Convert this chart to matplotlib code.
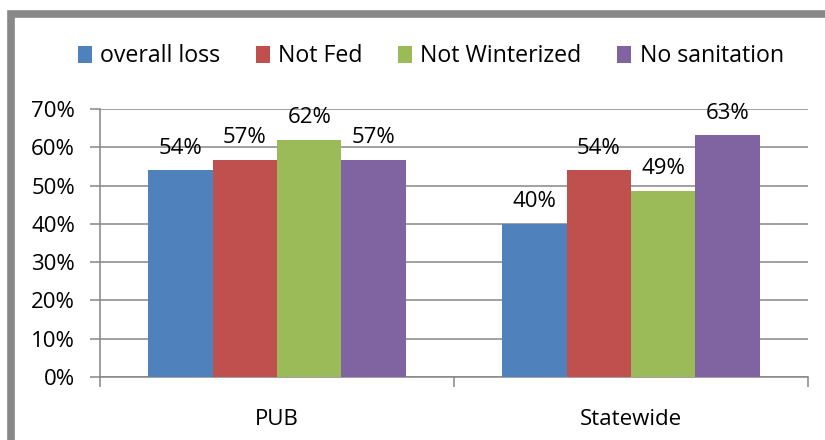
import matplotlib.pyplot as plt
import numpy as np
from matplotlib.patches import Patch, Rectangle
from matplotlib.ticker import FuncFormatter, MultipleLocator

plt.rcParams["font.family"] = ["Open Sans", "DejaVu Sans"]

CATEGORIES = ["PUB", "Statewide"]
SERIES = ["overall loss", "Not Fed", "Not Winterized", "No sanitation"]
VALUES = {
    "overall loss": [0.54, 0.40],
    "Not Fed": [0.567, 0.54],
    "Not Winterized": [0.62, 0.487],
    "No sanitation": [0.567, 0.631],
}
LABELS = {
    "overall loss": ["54%", "40%"],
    "Not Fed": ["57%", "54%"],
    "Not Winterized": ["62%", "49%"],
    "No sanitation": ["57%", "63%"],
}
COLORS = ["#4F81BD", "#C0504D", "#9BBB59", "#8064A2"]
GRID = "#868686"
FS = 16

fig = plt.figure(figsize=(8.25, 4.4), dpi=100)
ax = fig.add_axes([100 / 825, 1 - 377 / 440, 708 / 825, 268 / 440])

x = np.arange(len(CATEGORIES))
bar_w = 0.182
for i, (name, color) in enumerate(zip(SERIES, COLORS)):
    pos = x + (i - 1.5) * bar_w
    ax.bar(pos, VALUES[name], width=bar_w, color=color, zorder=3)
    for px, v, lab in zip(pos, VALUES[name], LABELS[name]):
        ax.annotate(lab, (px, v), xytext=(0, 12), textcoords="offset points",
                    ha="center", va="baseline", fontsize=FS, zorder=4)

ax.set_xlim(-0.5, 1.5)
ax.set_ylim(0, 0.7)
ax.yaxis.set_major_locator(MultipleLocator(0.1))
ax.yaxis.set_major_formatter(FuncFormatter(lambda v, _: f"{v * 100:.0f}%"))
ax.grid(axis="y", color=GRID, linewidth=1.1, zorder=0)

ax.set_xticks(x)
ax.set_xticklabels(CATEGORIES)
ax.set_xticks([-0.5, 0.5, 1.5], minor=True)
ax.tick_params(axis="x", which="major", length=0, pad=23, labelsize=FS)
ax.tick_params(axis="x", which="minor", length=7, width=1.1, color=GRID)
ax.tick_params(axis="y", length=7, width=1.1, color=GRID, pad=11, labelsize=FS)

for side in ["top", "right"]:
    ax.spines[side].set_visible(False)
for side in ["left", "bottom"]:
    ax.spines[side].set_color(GRID)
    ax.spines[side].set_linewidth(1.1)

handles = [Patch(facecolor=c, label=s) for s, c in zip(SERIES, COLORS)]
fig.legend(handles=handles, loc="center", bbox_to_anchor=(0.522, 0.872), ncol=4,
           frameon=False, fontsize=16.7, handlelength=0.6, handleheight=0.75,
           handletextpad=0.35, columnspacing=1.55)

frame = Rectangle((11 / 825, -0.1), 1.1, 1 - 14.5 / 440 + 0.1, transform=fig.transFigure,
                  fill=False, edgecolor="#888888", linewidth=5.5)
fig.patches.append(frame)

fig.savefig("out.png", dpi=100)
